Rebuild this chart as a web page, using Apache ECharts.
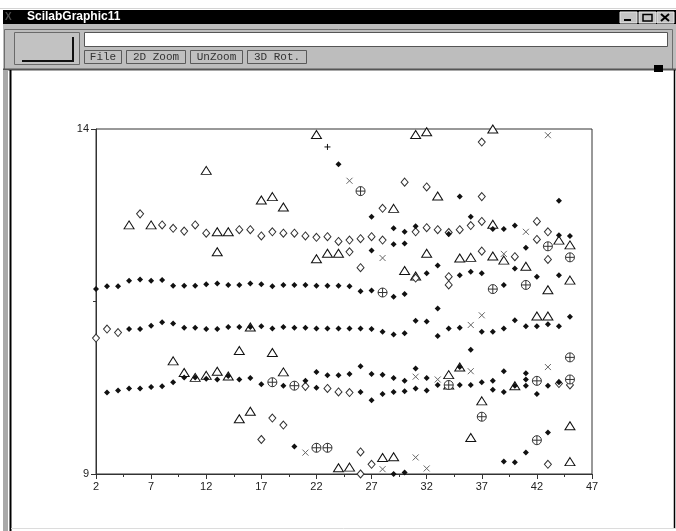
<!DOCTYPE html>
<html><head><meta charset="utf-8">
<script src="https://cdn.jsdelivr.net/npm/echarts@6/dist/echarts.min.js"></script>
<style>html,body{margin:0;padding:0;background:#fff;}#c{width:676px;height:531px;}</style>
</head><body><div id="c"></div>
<script>
const windowTitle = 'ScilabGraphic11';
const menuButtons = ['File', '2D Zoom', 'UnZoom', '3D Rot.'];
const xTickLabels = [2, 7, 12, 17, 22, 27, 32, 37, 42, 47];
const xMinorTicks = [4.5, 9.5, 14.5, 19.5, 24.5, 29.5, 34.5, 39.5, 44.5];
const yTickLabels = [9, 14];
const yMinorTicks = [11.5];

const filledDiamonds = [
  [2,11.68],[3,11.72],[4,11.72],[5,11.80],[6,11.82],[7,11.80],[8,11.81],[9,11.73],[10,11.73],[11,11.73],[12,11.75],[13,11.76],[14,11.74],[15,11.74],[16,11.76],[17,11.75],[18,11.72],[19,11.74],[20,11.74],[21,11.74],[22,11.73],[23,11.73],[24,11.73],[25,11.72],[26,11.65],[27,11.66],[29,11.57],[30,11.61],
  [5,11.10],[6,11.10],[7,11.15],[8,11.20],[9,11.18],[10,11.12],[11,11.12],[12,11.10],[13,11.10],[14,11.13],[15,11.13],[16,11.13],[17,11.14],[18,11.11],[19,11.13],[20,11.12],[21,11.12],[22,11.11],[23,11.11],[24,11.11],[25,11.11],[26,11.11],[27,11.10],[28,11.06],[29,11.02],[30,11.04],[31,11.22],[32,11.21],[33,11.40],[33,11.00],[34,11.11],[35,11.12],[37,11.06],[38,11.06],[39,11.11],[40,11.23],[41,11.14],[42,11.14],[43,11.17],[44,11.14],[45,11.28],[36,10.80],
  [10,10.40],[11,10.40],[12,10.38],[13,10.37],[14,10.42],[15,10.37],[16,10.39],[17,10.30],[19,10.28],[21,10.35],[22,10.48],[23,10.43],[24,10.43],[25,10.45],[26,10.56],[27,10.45],[28,10.44],[29,10.39],[30,10.35],[31,10.53],[32,10.39],[33,10.29],[35,10.29],[36,10.29],[37,10.33],[38,10.35],[39,10.49],[40,10.28],[41,10.46],[41,10.37],[41,10.28],[43,10.28],[44,10.33],[35,10.55],
  [3,10.18],[4,10.21],[5,10.24],[6,10.24],[7,10.26],[8,10.27],[9,10.33],[22,10.25],[26,10.19],[27,10.07],[28,10.16],[29,10.19],[30,10.20],[31,10.24],[32,10.21],[38,10.22],[39,10.19],[42,10.16],
  [24,13.49],[27,12.73],[29,12.56],[30,12.51],[31,12.59],[29,12.33],[30,12.34],[27,12.24],[32,11.91],[35,13.02],[44,12.96],[34,12.48],[36,12.73],[38,12.55],[39,12.55],[40,12.60],[44,12.46],[45,12.45],[33,12.02],[35,11.88],[36,11.93],[37,11.91],[40,11.98],[41,12.28],[42,11.86],[44,11.88],[39,11.74],
  [20,9.40],[30,9.02],[29,9.00],[41,9.31],[39,9.18],[40,9.17],[43,9.60]
];
const hollowDiamonds = [
  [2,10.97],[3,11.10],[4,11.05],
  [6,12.77],[8,12.61],[9,12.56],[10,12.52],[11,12.61],[12,12.49],[15,12.54],[16,12.54],[17,12.45],[18,12.51],[19,12.49],[20,12.49],[21,12.45],[22,12.43],[23,12.44],[24,12.37],[25,12.39],[26,12.41],[27,12.44],[28,12.39],
  [30,13.23],[32,13.16],[28,12.85],[31,12.51],[32,12.57],[25,12.22],[26,11.99],[31,11.84],
  [37,13.81],[37,13.02],[33,12.54],[34,12.50],[35,12.54],[36,12.60],[37,12.66],[42,12.66],[42,12.40],[43,12.51],[37,12.23],[40,12.15],[43,12.11],[34,11.86],[34,11.74],
  [21,10.27],[23,10.24],[24,10.19],[25,10.18],[44,10.31],[45,10.29],
  [17,9.50],[18,9.81],[19,9.71],[26,9.32],[27,9.14],[43,9.14],[26,9.00]
];
const triangles = [
  [5,12.61],[7,12.61],[12,13.40],[13,12.51],[13,12.22],[14,12.51],[17,12.97],[18,13.02],[19,12.87],[22,13.92],[31,13.92],[32,13.96],[29,12.85],[22,12.12],[23,12.20],[24,12.20],[30,11.95],[31,11.87],
  [33,13.03],[38,14.00],[38,12.62],[32,12.20],[35,12.13],[36,12.14],[38,12.16],[39,12.10],[41,12.01],[43,11.67],[44,12.39],[45,12.32],[45,11.81],[42,11.29],[43,11.29],
  [9,10.64],[10,10.47],[11,10.40],[12,10.43],[13,10.49],[14,10.42],[15,10.79],[15,9.80],[16,9.91],[16,11.13],[18,10.76],[19,10.48],[35,10.55],[34,10.44],[34,10.29],[37,10.06],[36,9.53],[45,9.70],[40,10.28],
  [24,9.09],[25,9.10],[28,9.24],[29,9.25],[45,9.18]
];
const circledPlus = [
  [26,13.10],[28,11.63],[38,11.68],[41,11.74],[43,12.30],[45,12.14],[18,10.33],[20,10.28],[34,10.29],[42,10.35],[45,10.37],[45,10.69],[37,9.83],[42,9.49],[22,9.38],[23,9.38]
];
const crosses = [
  [25,13.25],[43,13.91],[28,12.13],[41,12.51],[39,12.19],[36,11.16],[37,11.30],[31,10.41],[33,10.37],[36,10.49],[43,10.55],[21,9.31],[28,9.07],[31,9.24],[32,9.08]
];
const pluses = [[23,13.74]];

const FONT = '"Liberation Sans", Arial, sans-serif';
const MONO = '"Liberation Mono", "DejaVu Sans Mono", monospace';

const g = [];
// window top strip
g.push({type:'line', shape:{x1:0,y1:8.5,x2:676,y2:8.5}, style:{stroke:'#d4d4d4',lineWidth:1}});
// title bar
g.push({type:'rect', shape:{x:3,y:10,width:673,height:14}, style:{fill:'#000'}});
g.push({type:'text', x:5, y:17.5, style:{text:'X', fill:'#4a4a4a', font:'bold 10px '+FONT, verticalAlign:'middle'}});
g.push({type:'text', x:27, y:17, style:{text:windowTitle, fill:'#fff', font:'bold 12px '+FONT, verticalAlign:'middle'}});
// title bar buttons
[620, 639, 657].forEach(function (bx, i) {
  g.push({type:'rect', shape:{x:bx,y:12,width:17,height:11}, style:{fill:'#c4c4c4', stroke:'#e8e8e8', lineWidth:1}});
  if (i === 0) g.push({type:'line', shape:{x1:bx+4,y1:20,x2:bx+11,y2:20}, style:{stroke:'#000',lineWidth:2}});
  if (i === 1) g.push({type:'rect', shape:{x:bx+4,y:14.5,width:9,height:6.5}, style:{fill:'none',stroke:'#000',lineWidth:1.5}});
  if (i === 2) {
    g.push({type:'line', shape:{x1:bx+4,y1:14,x2:bx+12,y2:21}, style:{stroke:'#000',lineWidth:2}});
    g.push({type:'line', shape:{x1:bx+12,y1:14,x2:bx+4,y2:21}, style:{stroke:'#000',lineWidth:2}});
  }
});
// toolbar
g.push({type:'rect', shape:{x:3,y:24,width:673,height:46}, style:{fill:'#bdbdbd'}});
g.push({type:'polyline', shape:{points:[[4.5,69],[4.5,29.5],[672.5,29.5],[672.5,69]]}, style:{stroke:'#6e6e6e',lineWidth:1,fill:'none'}});
g.push({type:'line', shape:{x1:3,y1:69.5,x2:676,y2:69.5}, style:{stroke:'#555',lineWidth:2}});
// big left button
g.push({type:'rect', shape:{x:14.5,y:32.5,width:65,height:32}, style:{fill:'#c2c2c2', stroke:'#6a6a6a', lineWidth:1}});
g.push({type:'polyline', shape:{points:[[22,61],[73,61],[73,37]]}, style:{stroke:'#111',lineWidth:2,fill:'none'}});
// text field
g.push({type:'rect', shape:{x:84.5,y:32.5,width:583,height:14}, style:{fill:'#fff', stroke:'#555', lineWidth:1}});
// menu buttons
let bxp = 84;
menuButtons.forEach(function (t) {
  const w = Math.round(7.3 * t.length + 8);
  g.push({type:'rect', shape:{x:bxp+0.5,y:50.5,width:w,height:13}, style:{fill:'#c0c0c0', stroke:'#5a5a5a', lineWidth:1}});
  g.push({type:'text', x:bxp+0.5+w/2, y:57.5, style:{text:t, fill:'#333', font:'11px '+MONO, align:'center', verticalAlign:'middle'}});
  bxp += w + 5;
});
g.push({type:'rect', shape:{x:654,y:65,width:9,height:7}, style:{fill:'#000'}});
// canvas borders
g.push({type:'rect', shape:{x:3,y:70,width:5,height:461}, style:{fill:'#a9a9a9'}});
g.push({type:'line', shape:{x1:10.5,y1:70,x2:10.5,y2:531}, style:{stroke:'#000',lineWidth:2}});
g.push({type:'line', shape:{x1:674.5,y1:70,x2:674.5,y2:528}, style:{stroke:'#000',lineWidth:1.5}});
g.push({type:'line', shape:{x1:11,y1:528.5,x2:676,y2:528.5}, style:{stroke:'#dcdcdc',lineWidth:1}});

const axisColor = '#333';
const chart = echarts.init(document.getElementById('c'), null, {renderer:'canvas'});
function sc(name, data, symbol, size, color, border, bw, z) {
  return {type:'scatter', name:name, data:data, symbol:symbol, symbolSize:size, z:z,
    xAxisIndex:0, yAxisIndex:0, silent:true, animation:false,
    itemStyle:{color:color, borderColor:border, borderWidth:bw, opacity:1}};
}
chart.setOption({
  animation:false,
  backgroundColor:'#fff',
  graphic:{elements:g},
  grid:{left:96, top:129, width:496, height:345, show:true, borderColor:axisColor, borderWidth:1, backgroundColor:'transparent'},
  xAxis:[
    {type:'value', min:2, max:47, position:'bottom',
      axisLine:{show:true, onZero:false, lineStyle:{color:axisColor, width:1}},
      axisTick:{show:true, length:5, customValues:xTickLabels, lineStyle:{color:axisColor}},
      axisLabel:{show:true, customValues:xTickLabels, color:'#222', fontSize:11, fontFamily:FONT, margin:7},
      splitLine:{show:false}},
    {type:'value', min:2, max:47, position:'bottom', offset:0,
      axisLine:{show:false, onZero:false},
      axisTick:{show:true, length:3, customValues:xMinorTicks, lineStyle:{color:axisColor}},
      axisLabel:{show:false}, splitLine:{show:false}}
  ],
  yAxis:[
    {type:'value', min:9, max:14, position:'left',
      axisLine:{show:true, onZero:false, lineStyle:{color:axisColor, width:1}},
      axisTick:{show:true, length:5, customValues:yTickLabels, lineStyle:{color:axisColor}},
      axisLabel:{show:true, customValues:yTickLabels, color:'#222', fontSize:11, fontFamily:FONT, margin:7},
      splitLine:{show:false}},
    {type:'value', min:9, max:14, position:'left', offset:0,
      axisLine:{show:false, onZero:false},
      axisTick:{show:true, length:3, customValues:yMinorTicks, lineStyle:{color:axisColor}},
      axisLabel:{show:false}, splitLine:{show:false}}
  ],
  series:[
    sc('triangles', triangles, 'triangle', [10,8], '#fff', '#111', 1, 2),
    sc('hollowDiamonds', hollowDiamonds, 'diamond', [7,8], '#fff', '#333', 1, 3),
    sc('circledPlus', circledPlus, 'path://M10,5A5,5,0,1,1,0,5A5,5,0,1,1,10,5ZM5,0L5,10M0,5L10,5', 9, '#fff', '#333', 1, 4),
    sc('crosses', crosses, 'path://M0,0L10,10M10,0L0,10', 6, 'rgba(0,0,0,0)', '#666', 1, 5),
    sc('pluses', pluses, 'path://M5,0L5,10M0,5L10,5', 6, 'rgba(0,0,0,0)', '#111', 1, 5),
    sc('filledDiamonds', filledDiamonds, 'diamond', [6,6], '#111', '#111', 0, 6)
  ]
});
</script>
</body></html>
